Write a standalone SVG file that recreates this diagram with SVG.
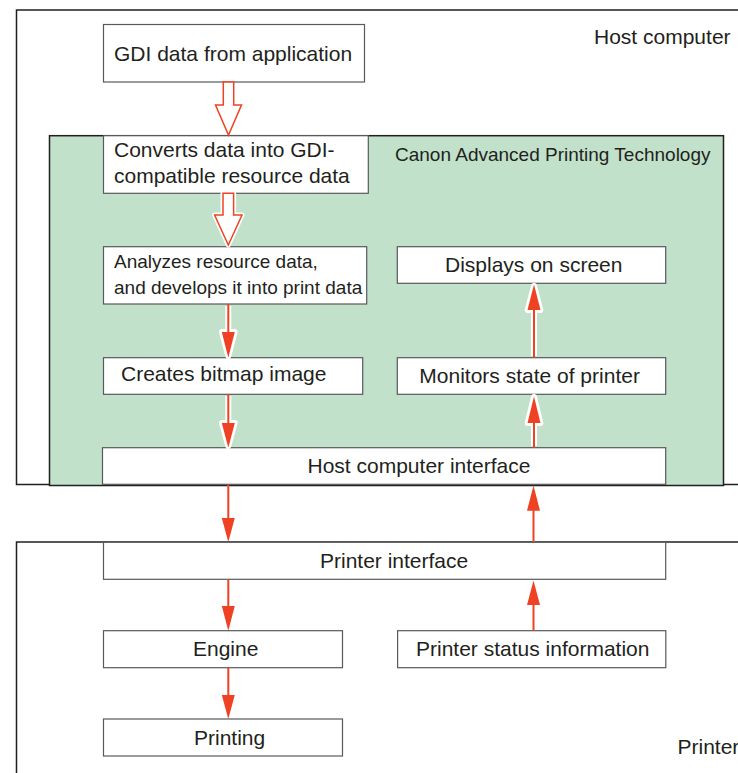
<svg xmlns="http://www.w3.org/2000/svg" width="738" height="773" viewBox="0 0 738 773">
<defs>
<style>
.outer{fill:#fff;stroke:#231f20;stroke-width:1.5}
.green{fill:#c1e1cb;stroke:#231f20;stroke-width:1.5}
.box{fill:#fff;stroke:#58595b;stroke-width:1.2}
text{font-family:"Liberation Sans",Arial,sans-serif;fill:#231f20;font-size:21px}
.sm{font-size:19px}
.line{stroke:#ef4123;stroke-width:2;fill:none}
.halo{stroke:#fff;stroke-width:6;fill:none;stroke-linejoin:round}
.haloh{stroke:#fff;stroke-width:5;fill:#fff;stroke-linejoin:round}
.head{fill:#ef4123;stroke:none}
.hollow{fill:#fff;stroke:#ef4123;stroke-width:1.5;stroke-linejoin:miter}
</style>
</defs>
<rect width="738" height="773" fill="#fff"/>
<g id="host-computer">
<rect class="outer" x="16.5" y="10" width="760" height="474.5"/>
<text x="594" y="43.5">Host computer</text>
</g>
<g id="printer">
<rect class="outer" x="16.5" y="542" width="760" height="300"/>
<text x="677.5" y="754">Printer</text>
</g>
<g id="capt">
<rect class="green" x="49.5" y="135.7" width="674" height="349.8"/>
<text class="sm" x="395" y="160.5">Canon Advanced Printing Technology</text>
</g>
<g id="gdi-data">
<rect class="box" x="103.5" y="24.5" width="261" height="57.5"/>
<text x="114" y="61">GDI data from application</text>
</g>
<g id="converts">
<rect class="box" x="103.5" y="135.7" width="264.8" height="57.6"/>
<text x="114" y="157">Converts data into GDI-</text>
<text x="114" y="183.3">compatible resource data</text>
</g>
<g id="analyzes">
<rect class="box" x="103.5" y="246.7" width="263.2" height="57.3"/>
<text class="sm" x="114" y="267.7">Analyzes resource data,</text>
<text class="sm" x="114" y="294.3">and develops it into print data</text>
</g>
<g id="creates-bitmap">
<rect class="box" x="103.5" y="357.7" width="259.2" height="36.6"/>
<text x="121" y="381">Creates bitmap image</text>
</g>
<g id="displays">
<rect class="box" x="397.3" y="246.7" width="268.4" height="36.6"/>
<text x="445" y="271.7">Displays on screen</text>
</g>
<g id="monitors">
<rect class="box" x="397.3" y="357.7" width="268.4" height="36.6"/>
<text x="419.3" y="382.7">Monitors state of printer</text>
</g>
<g id="host-interface">
<rect class="box" x="102.5" y="447.7" width="563.2" height="36.6"/>
<text x="307.5" y="473">Host computer interface</text>
</g>
<g id="printer-interface">
<rect class="box" x="103.5" y="542.3" width="562.2" height="37"/>
<text x="320" y="567.7">Printer interface</text>
</g>
<g id="engine">
<rect class="box" x="103.5" y="630.7" width="239" height="37"/>
<text x="193" y="655.7">Engine</text>
</g>
<g id="printer-status">
<rect class="box" x="397.6" y="630.7" width="268.2" height="37"/>
<text x="416" y="655.7">Printer status information</text>
</g>
<g id="printing">
<rect class="box" x="103.5" y="719" width="239" height="37"/>
<text x="194" y="745">Printing</text>
</g>
<g id="connectors">
<polygon class="hollow" points="223.3,82 233.7,82 233.7,105 241.5,105 228.5,135 215.5,105 223.3,105"/>
<polygon class="haloh" points="223,193.3 233.6,193.3 233.6,215 242,215 228.3,245 214.6,215 223,215"/>
<polygon class="hollow" points="223,193.3 233.6,193.3 233.6,215 242,215 228.3,245 214.6,215 223,215"/>
<!-- analyzes -> creates -->
<path class="halo" d="M228.3,306 V332 M222,332 L228.3,356 L234.6,332 Z"/>
<path class="line" d="M228.3,304 V334"/>
<polygon class="head" points="221.8,332 234.8,332 228.3,357.7"/>
<!-- creates -> host interface -->
<path class="halo" d="M228.3,396 V423 M222,423 L228.3,446 L234.6,423 Z"/>
<path class="line" d="M228.3,394.3 V425"/>
<polygon class="head" points="221.8,423 234.8,423 228.3,447.7"/>
<!-- host interface -> monitors -->
<path class="halo" d="M534,446 V423 M527.7,423 L534,397 L540.3,423 Z"/>
<path class="line" d="M534,447.7 V421"/>
<polygon class="head" points="527.5,423 540.5,423 534,396.5"/>
<!-- monitors -> displays -->
<path class="halo" d="M534,356 V310 M527.7,310 L534,286 L540.3,310 Z"/>
<path class="line" d="M534,357.7 V308"/>
<polygon class="head" points="527.5,310 540.5,310 534,284.5"/>
<!-- host interface -> printer interface -->
<path class="line" d="M228.3,484.5 V520"/>
<polygon class="head" points="221.8,518 234.8,518 228.3,542"/>
<!-- printer interface -> host interface -->
<path class="line" d="M533.5,542 V508"/>
<polygon class="head" points="527,510.7 540,510.7 533.5,485.5"/>
<!-- printer interface -> engine -->
<path class="line" d="M228.3,579.3 V608"/>
<polygon class="head" points="221.8,606 234.8,606 228.3,630.7"/>
<!-- printer status -> printer interface -->
<path class="line" d="M533.5,630.7 V603"/>
<polygon class="head" points="527,605 540,605 533.5,580.5"/>
<!-- engine -> printing -->
<path class="line" d="M228.3,667.7 V697"/>
<polygon class="head" points="221.8,695 234.8,695 228.3,719"/>
</g>
</svg>
